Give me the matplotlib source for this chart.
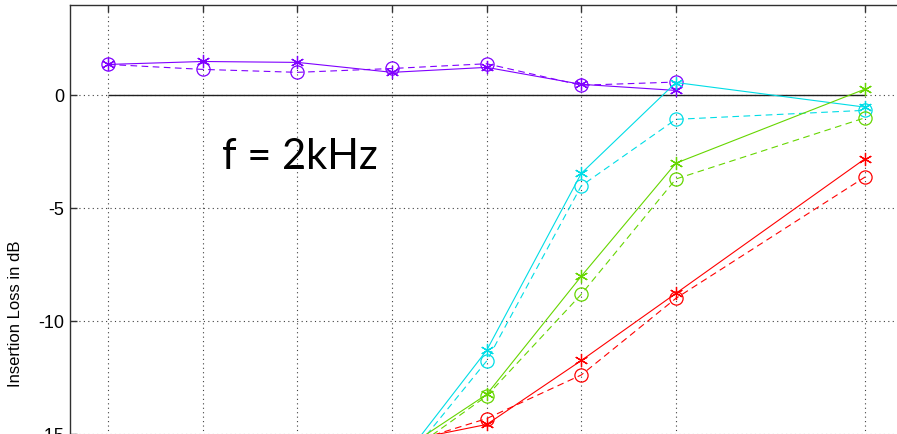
import numpy as np
import matplotlib.pyplot as plt

# x positions (measurement points); tick at 8 is not used
x_ticks = [1, 2, 3, 4, 5, 6, 7, 9]
x_purple = [1, 2, 3, 4, 5, 6, 7]
x_rest = [4, 5, 6, 7, 9]

purple_meas = [1.37, 1.50, 1.46, 1.02, 1.24, 0.49, 0.22]
purple_sim = [1.37, 1.15, 1.02, 1.19, 1.40, 0.45, 0.59]
cyan_meas = [-16.7, -11.28, -3.45, 0.57, -0.52]
cyan_sim = [-16.9, -11.75, -4.00, -1.06, -0.66]
green_meas = [-16.0, -13.23, -8.00, -3.00, 0.28]
green_sim = [-16.3, -13.30, -8.80, -3.70, -0.99]
red_meas = [-15.4, -14.56, -11.73, -8.76, -2.80]
red_sim = [-15.6, -14.30, -12.37, -8.98, -3.61]

y_ticks = [-20, -15, -10, -5, 0]

purple = '#8000ff'
cyan = '#00dde6'
green = '#66d600'
red = '#ff0000'

fig = plt.figure(figsize=(8.97, 4.34), dpi=100)
ax = fig.add_axes([0.0775, -0.2613, 0.9502, 1.2498])

ax.hlines(0, x_ticks[0], x_ticks[-1], color='#202020', lw=1.0, zorder=2)

star = (6, 2, 0)
ms = 9.5
series = [
    (x_purple, purple_meas, purple_sim, purple),
    (x_rest, cyan_meas, cyan_sim, cyan),
    (x_rest, green_meas, green_sim, green),
    (x_rest, red_meas, red_sim, red),
]
for xs, meas, sim, c in series:
    ax.plot(xs, meas, '-', color=c, lw=0.8, marker=star, ms=ms, mew=0.9, zorder=3)
    ax.plot(xs, sim, '--', color=c, lw=0.8, dashes=(6, 4), marker='o', ms=ms,
            mfc='none', mew=0.9, zorder=3)

ax.set_xlim(0.59, 9.6)
ax.set_ylim(-20, 4)
ax.set_xticks(x_ticks)
ax.set_xticklabels([])
ax.set_yticks(y_ticks)
ax.set_yticklabels([str(v) for v in y_ticks], family='Liberation Sans', fontsize=13)
ax.tick_params(direction='in', top=True, right=True, length=5, width=1,
               color='#303030', pad=4)
ax.grid(True, linestyle=(0, (1, 3)), color='#404040', lw=0.8)
ax.set_axisbelow(True)
for s in ax.spines.values():
    s.set_color('#303030')
    s.set_linewidth(1.0)

ax.set_ylabel('Insertion Loss in dB', family='Liberation Sans', fontsize=12,
              labelpad=4)
ax.yaxis.set_label_coords(-0.055, 0.43)

ax.text(3.03, -2.74, 'f = 2kHz', family='Lato', fontsize=30, ha='center',
        va='center', color='black')

fig.savefig('out.png', dpi=100)
